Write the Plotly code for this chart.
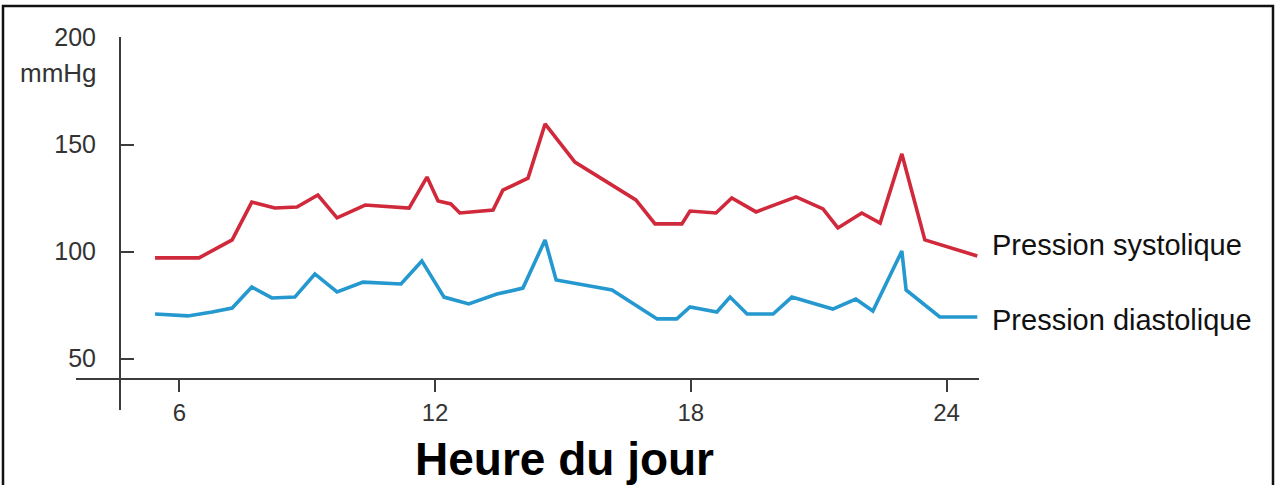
import plotly.graph_objects as go

# Hours of the day
hours_sys = [5.43, 6.46, 7.24, 7.70, 8.24, 8.76, 9.25, 9.70, 10.36, 11.39, 11.81, 12.07,
             12.37, 12.58, 13.36, 13.59, 14.18, 14.58, 15.28, 16.71, 17.16, 17.79, 17.98,
             18.59, 18.96, 19.53, 20.47, 21.10, 21.45, 22.01, 22.44, 22.95, 23.49, 24.72]
systolic = [97.0, 97.0, 105.4, 123.1, 120.3, 120.8, 126.4, 115.7, 121.7, 120.3, 134.8, 123.6,
            122.2, 118.0, 119.4, 128.7, 134.3, 159.6, 141.8, 124.1, 112.9, 112.9, 118.9,
            118.0, 125.0, 118.5, 125.5, 119.9, 111.0, 118.0, 113.3, 145.6, 105.4, 97.9]

hours_dia = [5.43, 6.20, 6.77, 7.24, 7.70, 8.17, 8.71, 9.18, 9.70, 10.31, 11.20, 11.69,
             12.21, 12.79, 13.45, 14.06, 14.58, 14.84, 16.15, 17.21, 17.67, 17.98, 18.61,
             18.92, 19.32, 19.93, 20.37, 21.33, 21.87, 22.27, 22.95, 23.05, 23.84, 24.72]
diastolic = [70.8, 69.9, 71.7, 73.6, 83.4, 78.3, 78.7, 89.5, 81.1, 85.7, 84.8, 95.6,
             78.7, 75.5, 80.1, 82.9, 105.4, 86.7, 82.0, 68.5, 68.5, 74.1, 71.7,
             78.7, 70.8, 70.8, 78.7, 73.1, 77.8, 72.2, 100.2, 82.0, 69.4, 69.4]

x_ticks = [6, 12, 18, 24]
y_ticks = [50, 100, 150, 200]
series_names = ["Pression systolique", "Pression diastolique"]
y_unit = "mmHg"
x_title = "Heure du jour"

RED = "#d0293b"
BLUE = "#2599cf"
AXIS = "#3c3c3c"
FONT = "Liberation Sans, Arial, sans-serif"

fig = go.Figure()
fig.add_trace(go.Scatter(x=hours_sys, y=systolic, mode="lines", name=series_names[0],
                         line=dict(color=RED, width=3.6), showlegend=False))
fig.add_trace(go.Scatter(x=hours_dia, y=diastolic, mode="lines", name=series_names[1],
                         line=dict(color=BLUE, width=3.6), showlegend=False))

L, R, T, B = 76, 297, 37, 107
W, H = 1276, 485
pw = W - L - R
ph = H - T - B

def px_x(p):
    return (p - L) / pw

def px_y(p):
    return (H - B - p) / ph

yaxis_pos = px_x(120)

fig.update_layout(
    width=W, height=H,
    margin=dict(l=L, r=R, t=T, b=B, pad=0),
    paper_bgcolor="white", plot_bgcolor="white",
    font=dict(family=FONT, color="#333333"),
    xaxis=dict(range=[3.576, 24.76], showgrid=False, zeroline=False,
               showline=True, linecolor=AXIS, linewidth=2,
               ticks="outside", ticklen=12, tickwidth=2, tickcolor=AXIS,
               tickvals=x_ticks, ticktext=[str(v) for v in x_ticks],
               tickfont=dict(size=24, color="#333333", family=FONT)),
    yaxis=dict(range=[40.89, 200.23], showgrid=False, zeroline=False,
               anchor="free", position=yaxis_pos,
               showline=True, linecolor=AXIS, linewidth=2,
               ticks="inside", ticklen=13, tickwidth=2, tickcolor=AXIS,
               tickvals=y_ticks, ticktext=[str(v) for v in y_ticks],
               ticklabelstandoff=18,
               tickfont=dict(size=25, color="#333333", family=FONT)),
    shapes=[
        dict(type="line", xref="paper", yref="paper", x0=yaxis_pos, x1=yaxis_pos,
             y0=0, y1=px_y(410), line=dict(color=AXIS, width=2)),
        dict(type="rect", xref="paper", yref="paper", x0=px_x(3), x1=px_x(1273),
             y0=px_y(495), y1=px_y(6), line=dict(color="#111111", width=2.5)),
    ],
    annotations=[
        dict(text=y_unit, xref="paper", yref="paper", x=px_x(99), y=px_y(73),
             xanchor="right", yanchor="middle", showarrow=False,
             font=dict(size=26, color="#333333", family=FONT)),
        dict(text=series_names[0], xref="paper", yref="paper", x=px_x(990), y=px_y(245),
             xanchor="left", yanchor="middle", showarrow=False,
             font=dict(size=29, color="#111111", family=FONT)),
        dict(text=series_names[1], xref="paper", yref="paper", x=px_x(990), y=px_y(320),
             xanchor="left", yanchor="middle", showarrow=False,
             font=dict(size=29, color="#111111", family=FONT)),
        dict(text="<b>" + x_title + "</b>", xref="paper", yref="paper", x=px_x(564), y=px_y(459),
             xanchor="center", yanchor="middle", showarrow=False,
             font=dict(size=46, color="#000000", family=FONT)),
    ],
)

fig.write_html("out.html")
